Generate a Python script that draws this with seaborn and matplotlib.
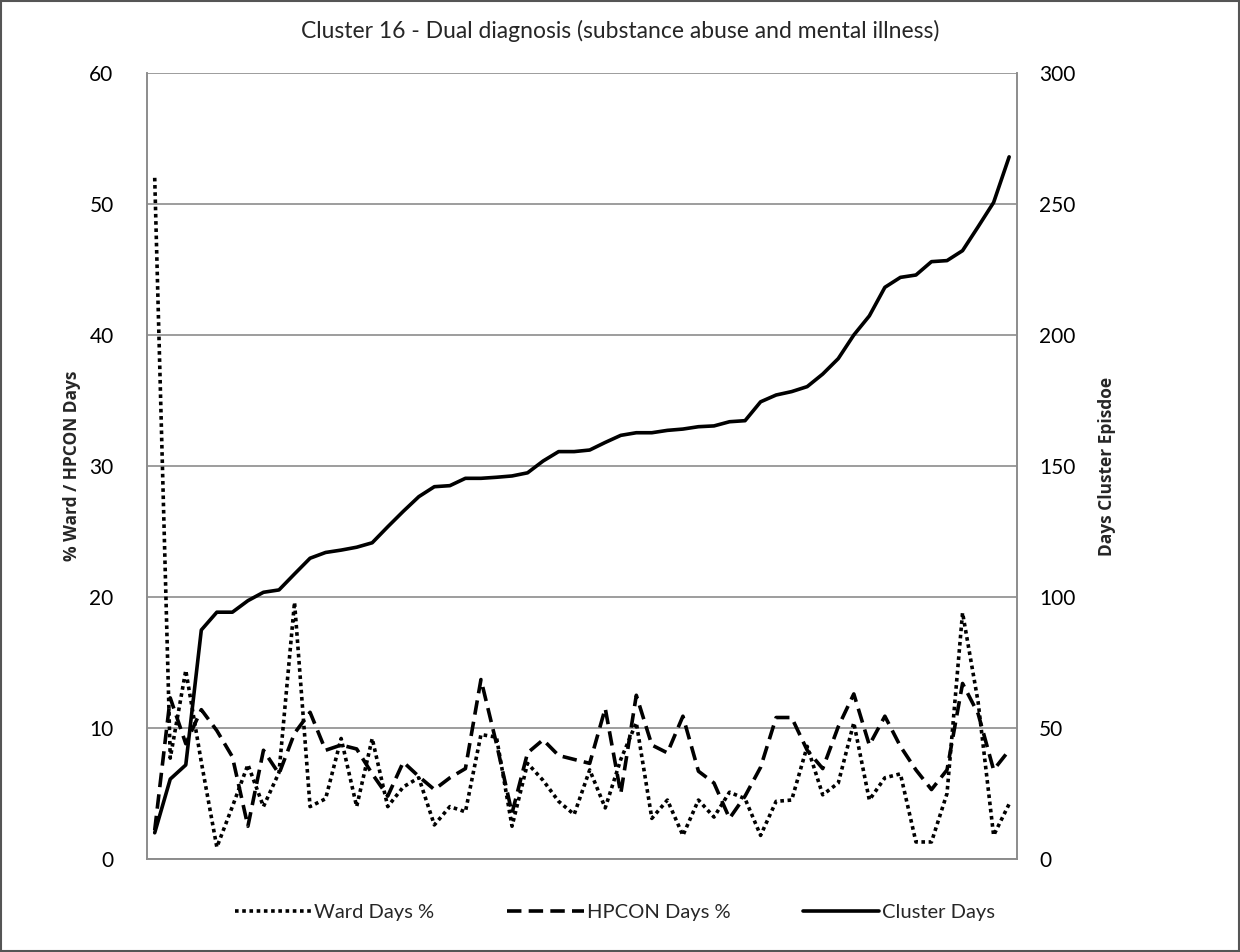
import pandas as pd
import numpy as np
import matplotlib
matplotlib.use("Agg")
import matplotlib.pyplot as plt
import seaborn as sns
from matplotlib.patches import Rectangle

# values, one point per episode (56)
ward_pct = [52, 7.7, 14.4, 7.4, 0.9, 4.0, 7.2, 4.0, 6.6, 19.6,
            4.0, 4.6, 9.2, 4.0, 9.2, 4.0, 5.5, 6.2, 2.6, 4.0,
            3.6, 9.5, 9.3, 2.5, 7.3, 6.0, 4.4, 3.4, 6.8, 3.9,
            7.6, 10.4, 3.1, 4.5, 1.8, 4.5, 3.2, 5.1, 4.6, 1.8,
            4.4, 4.5, 8.6, 4.9, 5.8, 10.4, 4.5, 6.2, 6.5, 1.3,
            1.3, 5.0, 18.8, 12.0, 1.8, 4.2]
hpcon_pct = [2.2, 12.3, 8.8, 11.4, 9.8, 7.8, 2.5, 8.3, 6.5, 9.6,
             11.2, 8.3, 8.7, 8.4, 6.5, 4.8, 7.4, 6.3, 5.3, 6.2,
             6.9, 13.7, 8.8, 3.5, 8.1, 9.1, 7.9, 7.6, 7.3, 11.5,
             5.0, 12.5, 8.7, 8.1, 10.9, 6.7, 5.8, 3.1, 4.8, 7.0,
             10.8, 10.8, 8.3, 6.9, 10.1, 12.6, 8.7, 10.9, 8.6, 6.8,
             5.3, 6.8, 13.4, 11.1, 6.8, 8.3]
cluster_days = [10, 30.5, 35.9, 87.4, 94.2, 94.2, 98.6, 101.8, 102.7, 108.8,
                114.8, 117, 117.9, 119, 120.7, 126.8, 132.7, 138.3, 142.1, 142.5,
                145.3, 145.3, 145.7, 146.2, 147.4, 151.9, 155.5, 155.5, 156.1, 159,
                161.7, 162.7, 162.7, 163.6, 164.1, 165, 165.3, 166.9, 167.3, 174.5,
                177.1, 178.4, 180.3, 185.1, 191, 200, 207.3, 218.2, 222, 222.9,
                228, 228.4, 232.2, 241.3, 250.6, 268]

left_ticks = [0, 10, 20, 30, 40, 50, 60]
right_ticks = [0, 50, 100, 150, 200, 250, 300]

df = pd.DataFrame({
    "episode": np.arange(len(ward_pct)),
    "ward": ward_pct,
    "hpcon": hpcon_pct,
    "cluster": cluster_days,
})

sns.set_style("white")
plt.rcParams['font.family'] = ['Lato', 'DejaVu Sans']

fig = plt.figure(figsize=(12.4, 9.52), dpi=100)
ax = fig.add_axes([0.1185, 0.0977, 0.7016, 0.8256])
ax2 = ax.twinx()

grid_col = "#8c8c8c"

sns.lineplot(data=df, x="episode", y="ward", ax=ax, color="black",
             linewidth=2.6, linestyle=(0, (1, 1)), label="Ward Days %", legend=False)
sns.lineplot(data=df, x="episode", y="hpcon", ax=ax, color="black",
             linewidth=2.6, linestyle=(0, (4, 2)), label="HPCON Days %", legend=False)
sns.lineplot(data=df, x="episode", y="cluster", ax=ax2, color="black",
             linewidth=2.6, label="Cluster Days", legend=False)

ax.set_xlim(-0.5, len(ward_pct) - 0.5)
ax.set_ylim(0, 60)
ax2.set_ylim(0, 300)
ax.set_yticks(left_ticks)
ax2.set_yticks(right_ticks)
ax.set_xticks([])
ax.yaxis.grid(True, color=grid_col, linewidth=1.2)
ax.set_axisbelow(True)

for a in (ax, ax2):
    for s in a.spines.values():
        s.set_color(grid_col)
        s.set_linewidth(1.2)
    a.spines["top"].set_visible(False)
    a.tick_params(axis="y", length=0, labelsize=15, colors="black")
    a.set_xlabel("")
ax.tick_params(axis="y", pad=24)
ax2.tick_params(axis="y", pad=16)

ax.set_ylabel("% Ward / HPCON Days", fontsize=12.5, fontweight="bold",
              family=["Open Sans", "DejaVu Sans"], labelpad=6)
ax2.set_ylabel("Days Cluster Episdoe", fontsize=12.5, fontweight="bold",
               family=["Open Sans", "DejaVu Sans"], labelpad=16)

fig.text(0.5, 0.968, "Cluster 16 - Dual diagnosis (substance abuse and mental illness)",
         ha="center", va="center", fontsize=16.5)

h1, l1 = ax.get_legend_handles_labels()
h2, l2 = ax2.get_legend_handles_labels()
fig.legend(h1 + h2, l1 + l2, loc="center", bbox_to_anchor=(0.496, 0.042), ncol=3,
           frameon=False, fontsize=14.5, handlelength=3.8, columnspacing=3.6,
           handletextpad=0.15)

fig.patches.append(Rectangle((0.001, 0.001), 0.998, 0.998, transform=fig.transFigure,
                             fill=False, edgecolor="#555555", linewidth=1.5))

plt.savefig("out.png", dpi=100)
